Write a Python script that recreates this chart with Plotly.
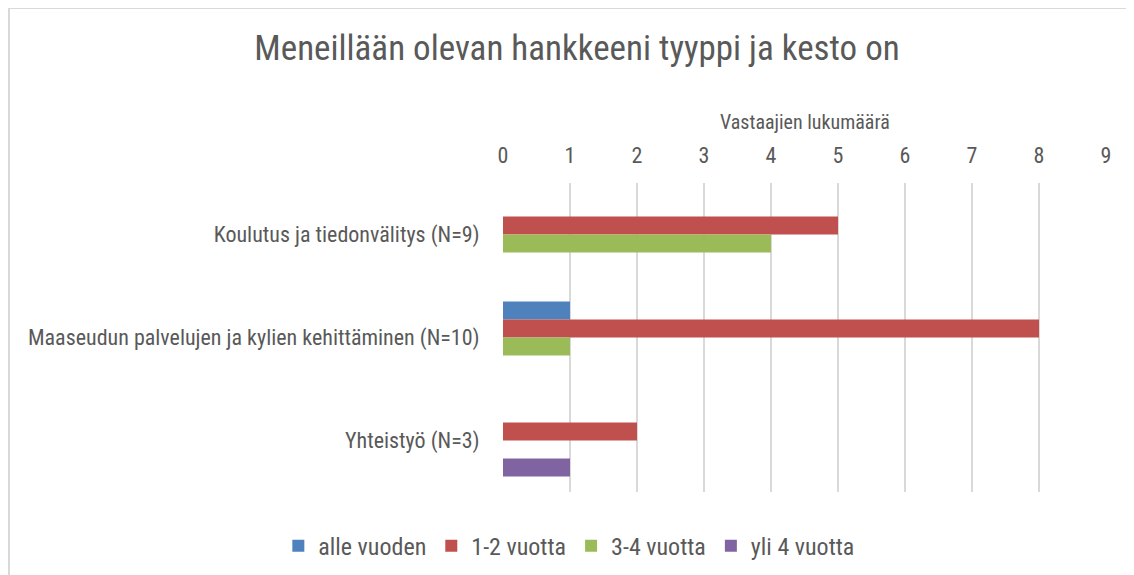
import plotly.graph_objects as go

categories = [
    "Koulutus ja tiedonvälitys (N=9)",
    "Maaseudun palvelujen ja kylien kehittäminen (N=10)",
    "Yhteistyö (N=3)",
]
alle_vuoden = [0, 1, 0]
vuotta_1_2 = [5, 8, 2]
vuotta_3_4 = [4, 1, 0]
yli_4_vuotta = [0, 0, 1]

series = [
    ("alle vuoden", alle_vuoden, "#4F81BD"),
    ("1-2 vuotta", vuotta_1_2, "#C0504D"),
    ("3-4 vuotta", vuotta_3_4, "#9BBB59"),
    ("yli 4 vuotta", yli_4_vuotta, "#8064A2"),
]

FONT = "Liberation Sans Narrow, Arial Narrow, Roboto Condensed, Liberation Sans, sans-serif"
GREY = "#595959"

# page has an 8px body margin, so the figure is placed 8px right/down
fig = go.Figure()
for name, vals, col in series:
    fig.add_trace(go.Bar(
        y=categories, x=vals, name=name, orientation="h",
        marker=dict(color=col, line=dict(width=0)),
    ))

fig.update_layout(
    width=1134, height=575,
    margin=dict(l=495, r=36, t=175, b=91),
    paper_bgcolor="white", plot_bgcolor="white",
    font=dict(family=FONT, color=GREY, size=22),
    barmode="group", bargap=0.30, bargroupgap=0,
    title=dict(
        text="Meneillään olevan hankkeeni tyyppi ja kesto on",
        x=(577 - 8) / 1134, xanchor="center", y=1 - 40 / 575, yanchor="middle",
        yref="container", font=dict(size=35, color=GREY, family=FONT),
    ),
    showlegend=True,
    legend=dict(
        orientation="h", x=0.11, xanchor="center", y=-0.175, yanchor="middle",
        font=dict(size=24, color=GREY, family=FONT), traceorder="normal",
        itemwidth=30,
    ),
    xaxis=dict(
        side="top", range=[0, 9], dtick=1, tick0=0,
        showgrid=True, gridcolor="#d9d9d9", gridwidth=1.5,
        zeroline=False, showline=False,
        ticks="outside", ticklen=10, tickcolor="rgba(0,0,0,0)",
        tickfont=dict(size=22, color=GREY),
    ),
    yaxis=dict(
        autorange="reversed", showgrid=False, zeroline=False, showline=False,
        ticks="outside", ticklen=18, tickcolor="rgba(0,0,0,0)",
        tickfont=dict(size=22, color=GREY),
    ),
    annotations=[dict(
        text="Vastaajien lukumäärä", xref="paper", yref="paper",
        x=0.5, y=(492 - 122) / 309, xanchor="center", yanchor="middle",
        showarrow=False, font=dict(size=20, color=GREY, family=FONT),
    )],
    shapes=[
        dict(type="line", xref="paper", yref="paper",
             x0=-494 / 603, x1=-494 / 603, y0=484 / 309, y1=-91 / 309,
             line=dict(color="#d9d9d9", width=2)),
        dict(type="line", xref="paper", yref="paper",
             x0=-494 / 603, x1=640 / 603, y0=484 / 309, y1=484 / 309,
             line=dict(color="#d9d9d9", width=2)),
    ],
)

fig.write_html("out.html")
